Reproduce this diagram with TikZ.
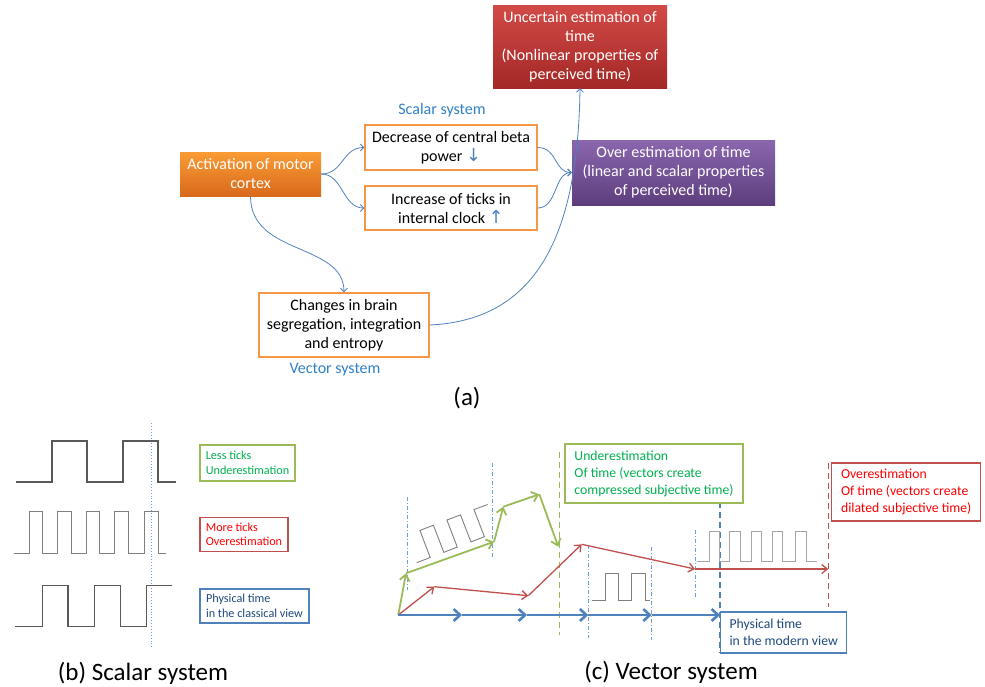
\documentclass[tikz,border=0pt]{standalone}
\usepackage{fontspec}
\setmainfont{Carlito}
\newfontfamily\dejavu{DejaVu Sans}
\usetikzlibrary{arrows.meta}
\definecolor{conn}{HTML}{4F81BD}
\definecolor{orgB}{HTML}{F79646}
\definecolor{orgT}{HTML}{F99B35}
\definecolor{orgD}{HTML}{D96A1C}
\definecolor{redT}{HTML}{D24A47}
\definecolor{redD}{HTML}{A32826}
\definecolor{purT}{HTML}{8A66AE}
\definecolor{purD}{HTML}{5E3E7E}
\definecolor{lblue}{HTML}{2F80C9}
\definecolor{gline}{HTML}{9BBB59}
\definecolor{gtext}{HTML}{00B050}
\definecolor{rline}{HTML}{C0504D}
\definecolor{rtext}{HTML}{FF0000}
\definecolor{btext}{HTML}{1F497D}
\definecolor{vl}{HTML}{6A9FD8}
\definecolor{wave1}{HTML}{595959}
\definecolor{wave2}{HTML}{808080}
\definecolor{wave3}{HTML}{A6A6A6}
\tikzset{
  obox/.style={draw=orgB, line width=1.3pt, fill=white, align=center, inner sep=0pt,
    font=\fontsize{16}{19}\selectfont},
  fbox/.style={align=center, inner sep=0pt, text=white, font=\fontsize{16}{19}\selectfont},
  conarrow/.style={draw=conn, line width=0.8pt, -{Straight Barb[length=3.5pt,width=7pt]}},
  sysl/.style={text=lblue, font=\fontsize{16}{19}\selectfont},
  capt/.style={font=\fontsize{25}{29}\selectfont},
  lbox/.style={line width=1.2pt, fill=white, align=left, inner sep=0pt, font=\fontsize{12.2}{14.5}\selectfont},
  vbox/.style={line width=1.2pt, fill=white, align=left, inner sep=0pt, font=\fontsize{13.7}{17}\selectfont},
  gvec/.style={draw=gline, line width=1.8pt, -{Straight Barb[length=6pt,width=10pt]}},
  rvec/.style={draw=rline, line width=1.3pt, -{Straight Barb[length=5.5pt,width=9pt]}},
  bvec/.style={draw=conn, line width=2.6pt, -{Straight Barb[length=6.5pt,width=12pt]}},
  vline/.style={draw=vl, line width=0.8pt, dash pattern=on 4pt off 2pt on 1pt off 2pt},
}
\begin{document}
\begin{tikzpicture}[x=1pt,y=-1pt]
\useasboundingbox (0,0) rectangle (985,686);

% ---------- (a) ----------
\node[fbox, minimum width=174, minimum height=83, top color=redT, bottom color=redD]
  (unc) at (580,46.5) {Uncertain estimation of\\time\\(Nonlinear properties of\\perceived time)};
\node[fbox, minimum width=203, minimum height=65, top color=purT, bottom color=purD]
  (over) at (673.5,172.5) {Over estimation of time\\(linear and scalar properties\\of perceived time)};
\node[fbox, minimum width=141, minimum height=44, top color=orgT, bottom color=orgD]
  (act) at (250.5,174) {Activation of motor\\cortex};
\node[obox, minimum width=172, minimum height=45] (dec) at (451,147.5)
  {Decrease of central beta\\power \textcolor{conn}{\dejavu\fontsize{18}{18}\selectfont ↓}};
\node[obox, minimum width=172, minimum height=44] (inc) at (451,208)
  {Increase of ticks in\\internal clock \textcolor{conn}{\dejavu\fontsize{18}{18}\selectfont ↑}};
\node[obox, minimum width=170, minimum height=64] (chg) at (344,325)
  {Changes in brain\\segregation, integration\\and entropy};
\node[sysl] (scl) at (442,110) {Scalar system};
\node[sysl] (vcl) at (335,370) {Vector system};
\node[capt] (capa) at (467,398) {(a)};

\draw[conarrow] (act.east) .. controls +(22,0) and +(-22,0) .. (dec.west);
\draw[conarrow] (act.east) .. controls +(22,0) and +(-22,0) .. (inc.west);
\draw[conarrow] (dec.east) .. controls +(20,0) and +(-18,0) .. (over.west);
\draw[conarrow] (inc.east) .. controls +(20,0) and +(-18,0) .. (over.west);
\draw[conarrow] (act.south) .. controls +(0,60) and +(0,-50) .. (chg.north);
\draw[conarrow] (chg.east) .. controls (540,320) and (578,230) .. (unc.south);

% ---------- (b) ----------
\draw[vl, line width=0.9pt, dotted] (151.7,423) -- (151.7,647);
\draw[wave1, line width=1.6pt] (16,481.7) -- (51.7,481.7) -- (51.7,440.7) -- (86.7,440.7) -- (86.7,481.7) -- (122.7,481.7) -- (122.7,440.7) -- (157.7,440.7) -- (157.7,481.7) -- (175.7,481.7);
\draw[wave2, line width=1pt] (14,553.3) -- (29,553.3) -- (29,511.7) -- (42.7,511.7) -- (42.7,553.3) -- (57.3,553.3)--(57.3,511.7)--(71,511.7)--(71,553.3)--(86,553.3)--(86,511.7)--(99.3,511.7)--(99.3,553.3)--(114.7,553.3)--(114.7,511.7)--(128.3,511.7)--(128.3,553.3)--(144,553.3)--(144,511.7)--(158,511.7)--(158,553.3)--(166,553.3);
\draw[wave1, line width=1.3pt] (15.3,626.7)--(42.7,626.7)--(42.7,585.7)--(68,585.7)--(68,626.7)--(94.3,626.7)--(94.3,585.7)--(120.7,585.7)--(120.7,626.7)--(146.7,626.7)--(146.7,585.7)--(172.3,585.7);

\node[lbox, draw=gline, text=gtext, minimum width=95, minimum height=36] (lt) at (247.5,463) {Less ticks\\Underestimation};
\node[lbox, draw=rline, text=rtext, minimum width=88, minimum height=34] (mt) at (244,534.5) {More ticks\\Overestimation};
\node[lbox, draw=conn, text=btext, minimum width=109, minimum height=34] (pt) at (254.5,606) {Physical time\\in the classical view};
\node[capt] (capb) at (143,673) {(b) Scalar system};

% ---------- (c) ----------
\draw[vline] (407.3,496.7) -- (407.3,590);
\draw[vline] (492.7,463.3) -- (492.7,556.7);
\draw[vline] (588.3,545) -- (588.3,638.3);
\draw[vline] (651,546.7) -- (651,640);
\draw[vline] (695,530) -- (695,596.7);
\draw[draw=gline, line width=1.5pt, dash pattern=on 6pt off 4pt] (559.3,451.7) -- (559.3,635);
\draw[draw=conn, line width=1.5pt, dash pattern=on 6pt off 4pt] (720,501.7) -- (720,652);
\draw[draw=rline, line width=1.5pt, dash pattern=on 6pt off 4pt] (828.3,463.3) -- (828.3,606.7);

% waves
\draw[wave2, line width=0.9pt] (416.7,562.7) -- (430.2,557.5) -- (419.9,530.4) -- (433.4,525.2) -- (443.8,552.3) -- (457.3,547.1) -- (446.9,520.0) -- (460.5,514.9) -- (470.9,541.9) -- (484.4,536.7) -- (474.0,509.6) -- (487.6,504.5);
\draw[wave2, line width=0.9pt] (592.3,600)--(605,600)--(605,573.3)--(618.3,573.3)--(618.3,600)--(631.7,600)--(631.7,573.3)--(645,573.3)--(645,600)--(650,600);
\draw[wave3, line width=0.9pt] (696.7,561.7)--(709.3,561.7)--(709.3,531.7)--(719.3,531.7)--(719.3,561.7)--(729.3,561.7)--(729.3,531.7)--(740,531.7)--(740,561.7)--(751,561.7)--(751,531.7)--(761.7,531.7)--(761.7,561.7)--(772.7,561.7)--(772.7,531.7)--(782.7,531.7)--(782.7,561.7)--(795,561.7)--(795,531.7)--(806,531.7)--(806,561.7)--(817.3,561.7);

% vectors
\coordinate (o) at (398.3,615);
\coordinate (b1) at (462,615);
\coordinate (b2) at (527,615);
\coordinate (b3) at (588.3,615);
\coordinate (b4) at (651.7,615);
\coordinate (b5) at (720,615);
\coordinate (g1) at (406,573.3);
\coordinate (g2) at (494,541.7);
\coordinate (g3) at (503.3,506.7);
\coordinate (g4) at (539.3,494.3);
\coordinate (g5) at (558.3,546.7);
\coordinate (r1) at (434.3,586.7);
\coordinate (r2) at (528.3,595.7);
\coordinate (r3) at (581.7,544.3);
\coordinate (r4) at (695,569);
\coordinate (r5) at (828.3,569);

\draw[gvec] (o) -- (g1);
\draw[gvec] (g1) -- (g2);
\draw[gvec] (g2) -- (g3);
\draw[gvec] (g3) -- (g4);
\draw[gvec] (g4) -- (g5);
\draw[rvec] (o) -- (r1);
\draw[rvec] (r1) -- (r2);
\draw[rvec] (r2) -- (r3);
\draw[rvec] (r3) -- (r4);
\draw[rvec] (r4) -- (r5);
\draw[bvec] (o) -- (b1);
\draw[bvec] (b1) -- (b2);
\draw[bvec] (b2) -- (b3);
\draw[bvec] (b3) -- (b4);
\draw[bvec] (b4) -- (b5);

\node[vbox, draw=gline, text=gtext, minimum width=178, minimum height=59] (ue) at (654,473.5) {Underestimation\\Of time (vectors create\\compressed subjective time)};
\node[vbox, draw=rline, text=rtext, minimum width=149, minimum height=58] (oe) at (906.2,492) {Overestimation\\Of time (vectors create\\dilated subjective time)};
\node[vbox, draw=conn, text=btext, minimum width=126, minimum height=41] (pm) at (783.7,632.5) {Physical time\\in the modern view};
\node[capt] (capc) at (671,672) {(c) Vector system};
\end{tikzpicture}
\end{document}
